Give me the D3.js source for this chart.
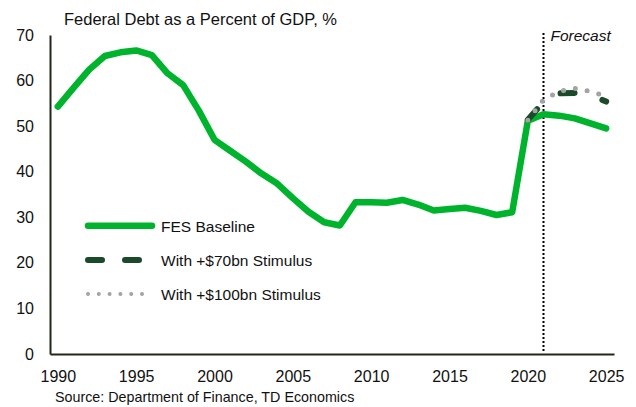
<!DOCTYPE html>
<html>
<head>
<meta charset="utf-8">
<script src="https://cdn.jsdelivr.net/npm/d3@7"></script>
<style>
  body { margin: 0; background: #fff; }
  svg { display: block; font-family: Arial, "Liberation Sans", sans-serif; }
</style>
</head>
<body>
<div id="chart"></div>
<script>
var years = d3.range(1990, 2026)
var baseline = [54.3, 58.4, 62.4, 65.4, 66.2, 66.6, 65.6, 61.6, 59.0, 53.4,
  47.0, 44.6, 42.2, 39.6, 37.4, 34.2, 31.2, 28.9, 28.2, 33.3,
  33.3, 33.2, 33.8, 32.8, 31.5, 31.8, 32.1, 31.4, 30.5, 31.1,
  51.2, 52.6, 52.3, 51.7, 50.6, 49.5]
var stimYears = [2020, 2021, 2022, 2023, 2024, 2025]
var stim70 = [51.4, 55.3, 57.2, 57.3, 56.9, 55.4]
var stim100 = [51.3, 55.8, 57.6, 58.3, 57.6, 56.6]
var xTicks = [1990, 1995, 2000, 2005, 2010, 2015, 2020, 2025]
var yTicks = [0, 10, 20, 30, 40, 50, 60, 70]
var forecastYear = 2021

var series = [
  {name: 'FES Baseline', years: years, values: baseline, color: '#00b32c', width: 6.5, dash: null, legendDash: null},
  {name: 'With +$70bn Stimulus', years: stimYears, values: stim70, color: '#1b4a2a', width: 6, dash: '14 29', legendDash: '14 23'},
  {name: 'With +$100bn Stimulus', years: stimYears, values: stim100, color: '#a3a3a3', width: 5, dash: '0 12', legendDash: '0 10.8', legendWidth: 4},
]

var width = 636, height = 407
var svg = d3.select('#chart').append('svg').attr('width', width).attr('height', height)

var x = d3.scaleLinear().domain([1989.5, 2025.5]).range([50, 614])
var y = d3.scaleLinear().domain([0, 70]).range([354, 35])

var axisColor = '#23261a'

// y axis
var yAxis = svg.append('g').attr('transform', 'translate(50,0)')
  .call(d3.axisLeft(y).tickValues(yTicks).tickSize(0).tickSizeOuter(0).tickPadding(16))
yAxis.select('.domain').attr('stroke', axisColor).attr('stroke-width', 2)
yAxis.selectAll('text').attr('font-size', 16).attr('fill', '#111').attr('font-family', 'Arial, "Liberation Sans", sans-serif')

// x axis
var xAxis = svg.append('g').attr('transform', 'translate(0,354)')
  .call(d3.axisBottom(x).tickValues(xTicks).tickFormat(d => d).tickSize(0).tickSizeOuter(0).tickPadding(16.6))
xAxis.select('.domain').attr('stroke', axisColor).attr('stroke-width', 2)
xAxis.selectAll('text').attr('font-size', 16).attr('fill', '#111').attr('font-family', 'Arial, "Liberation Sans", sans-serif')

// forecast divider
svg.append('line')
  .attr('x1', x(forecastYear)).attr('x2', x(forecastYear))
  .attr('y1', 33).attr('y2', 353)
  .attr('stroke', '#000').attr('stroke-width', 2).attr('stroke-dasharray', '2 2')

svg.append('text')
  .attr('x', x(forecastYear) + 7).attr('y', 41)
  .attr('font-size', 15.5).attr('font-style', 'italic').attr('fill', '#111')
  .text('Forecast')

var line = d3.line().x(d => x(d[0])).y(d => y(d[1]))

series.forEach(s => {
  svg.append('path')
    .datum(d3.zip(s.years, s.values))
    .attr('d', line)
    .attr('fill', 'none')
    .attr('stroke', s.color)
    .attr('stroke-width', s.width)
    .attr('stroke-linecap', 'round')
    .attr('stroke-linejoin', 'round')
    .attr('stroke-dasharray', s.dash)
})

// legend
var legend = svg.append('g')
series.forEach((s, i) => {
  var ly = 225.7 + i * 34.2
  legend.append('line')
    .attr('x1', 88).attr('x2', 152).attr('y1', ly).attr('y2', ly)
    .attr('stroke', s.color)
    .attr('stroke-width', s.legendWidth || s.width)
    .attr('stroke-linecap', 'round')
    .attr('stroke-dasharray', s.legendDash)
  legend.append('text')
    .attr('x', 161).attr('y', ly + 6)
    .attr('font-size', 15.5).attr('fill', '#111')
    .text(s.name)
})

svg.append('text')
  .attr('x', 64).attr('y', 25)
  .attr('font-size', 16.5).attr('fill', '#111')
  .text('Federal Debt as a Percent of GDP, %')

svg.append('text')
  .attr('x', 55).attr('y', 402)
  .attr('font-size', 14.3).attr('fill', '#111')
  .text('Source: Department of Finance, TD Economics')
</script>
</body>
</html>
